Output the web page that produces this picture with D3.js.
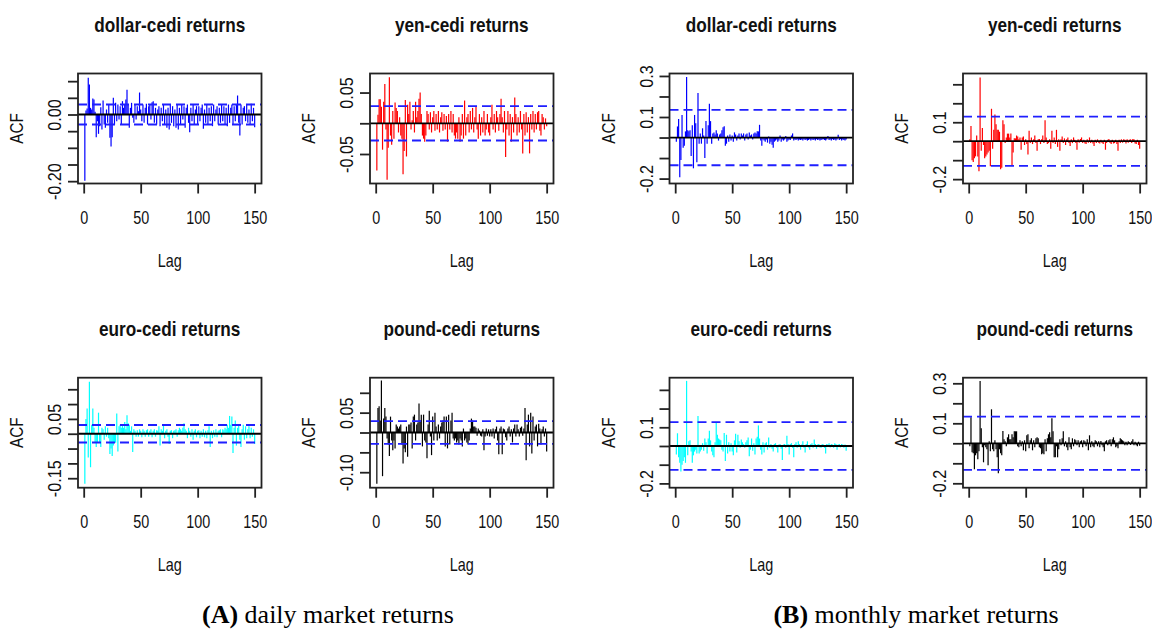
<!DOCTYPE html>
<html>
<head>
<meta charset="utf-8">
<script src="https://cdn.jsdelivr.net/npm/d3@7"></script>
<style>
body { margin: 0; background: #fff; }
svg text { font-family: "Liberation Sans", Arial, sans-serif; fill: #111; }
svg text.caption { font-family: "Liberation Serif", "Times New Roman", serif; }
</style>
</head>
<body>
<div id="chart"></div>
<script>
// lags shown on every panel (lag 0 left out)
var lags = d3.range(1, 151);
var xTicks = [0, 50, 100, 150];
var xLimits = [-5, 156];

// ---- daily returns, acf by lag 1..150 ----
var dollarDaily = [
  -0.199, 0.012, 0.018, 0.110, 0.090, 0.020, 0.015, 0.048, 0.045, 0.008,
  -0.068, -0.020, -0.058, -0.035, 0.022, -0.045, 0.042, -0.030, -0.040, 0.015,
  -0.025, 0.030, -0.070, -0.096, -0.068, 0.050, -0.030, 0.035, -0.020, 0.030,
  -0.015, 0.025, -0.030, 0.040, 0.020, 0.030, 0.045, 0.074, 0.030, -0.040,
  0.020, 0.035, -0.010, -0.025, 0.030, -0.015, 0.025, 0.010, 0.066, 0.015,
  -0.020, 0.030, -0.025, 0.020, 0.032, -0.030, 0.025, 0.030, -0.015, 0.037,
  0.040, -0.025, 0.020, -0.030, 0.015, 0.025, -0.035, 0.020, -0.020, 0.030,
  -0.030, 0.015, -0.040, 0.020, -0.045, 0.030, -0.025, 0.025, -0.035, 0.015,
  -0.040, 0.030, -0.045, 0.020, -0.030, 0.030, -0.015, 0.025, -0.040, 0.020,
  0.030, -0.025, -0.053, 0.020, -0.020, 0.030, -0.030, 0.015, 0.025, -0.030,
  0.025, -0.020, 0.020, 0.030, -0.043, 0.015, -0.025, 0.030, -0.030, 0.020,
  -0.020, 0.025, -0.035, 0.030, -0.020, 0.015, 0.025, -0.030, 0.020, -0.025,
  0.030, -0.020, 0.025, -0.030, 0.020, -0.035, 0.030, -0.025, 0.020, 0.030,
  -0.030, 0.025, -0.020, 0.030, 0.057, -0.025, -0.063, 0.030, -0.030, 0.020,
  0.025, -0.020, 0.030, -0.025, 0.015, -0.030, 0.032, -0.020, 0.020, -0.038
];
var yenDaily = [
  -0.077, 0.014, 0.039, 0.039, 0.027, -0.043, 0.035, 0.064, -0.010, -0.092,
  -0.040, 0.075, -0.020, -0.035, 0.020, -0.025, 0.034, 0.025, 0.020, -0.015,
  0.010, -0.020, -0.025, -0.083, -0.045, 0.038, -0.054, 0.030, 0.015, 0.035,
  -0.010, 0.005, 0.020, -0.015, 0.035, 0.010, 0.020, 0.040, 0.050, 0.015,
  -0.020, -0.025, -0.030, -0.020, 0.020, 0.015, -0.010, 0.018, -0.015, 0.010,
  0.020, -0.012, 0.015, -0.010, 0.020, -0.015, 0.010, 0.018, -0.012, 0.015,
  -0.010, 0.012, -0.030, 0.015, -0.010, 0.020, -0.015, 0.015, -0.020, -0.025,
  -0.015, -0.025, 0.010, -0.030, -0.020, 0.015, -0.025, 0.037, -0.020, 0.010,
  0.015, -0.015, 0.020, -0.010, 0.025, -0.015, 0.010, 0.028, -0.010, -0.025,
  0.015, -0.020, 0.010, -0.015, 0.020, -0.020, -0.010, 0.015, -0.015, -0.020,
  0.010, 0.030, -0.010, 0.015, -0.015, 0.020, 0.010, -0.012, 0.015, 0.040,
  0.010, -0.015, 0.020, -0.055, -0.010, 0.020, -0.020, 0.015, -0.030, 0.010,
  -0.015, 0.042, 0.015, -0.020, 0.010, -0.015, 0.020, -0.010, -0.049, 0.015,
  -0.020, 0.018, -0.015, 0.010, -0.049, 0.015, -0.010, 0.020, -0.015, 0.015,
  -0.010, 0.018, 0.020, -0.012, -0.020, 0.015, 0.010, -0.010, 0.008, -0.005
];
var euroDaily = [
  -0.169, 0.050, 0.085, -0.080, 0.175, -0.113, 0.030, 0.085, 0.020, -0.030,
  -0.045, -0.030, 0.071, -0.030, -0.045, 0.020, 0.015, -0.020, 0.025, -0.010,
  0.020, -0.015, -0.068, -0.050, -0.075, -0.040, -0.030, -0.030, 0.068, -0.060,
  0.025, 0.030, 0.020, 0.030, 0.020, 0.040, 0.015, 0.062, 0.035, 0.030,
  0.010, 0.025, -0.062, 0.015, 0.010, -0.010, 0.012, -0.010, 0.015, 0.010,
  -0.012, 0.015, 0.010, -0.010, 0.012, 0.015, -0.010, 0.010, 0.015, -0.012,
  0.010, 0.015, -0.010, 0.012, 0.010, 0.025, -0.040, 0.015, 0.010, 0.030,
  -0.015, 0.010, 0.015, -0.010, -0.035, 0.010, 0.012, -0.015, 0.010, 0.012,
  0.015, -0.010, 0.012, 0.020, 0.015, 0.010, 0.020, 0.035, 0.015, 0.010,
  -0.015, 0.020, 0.010, -0.010, 0.015, -0.020, 0.010, 0.015, -0.012, 0.010,
  0.012, -0.015, 0.010, -0.010, 0.015, -0.012, 0.010, -0.015, 0.012, 0.025,
  -0.045, 0.010, -0.015, 0.012, -0.010, 0.015, -0.012, 0.010, 0.012, 0.015,
  -0.012, 0.015, 0.012, 0.020, 0.015, 0.030, 0.020, 0.060, 0.030, 0.058,
  -0.065, 0.020, 0.045, -0.040, 0.020, 0.030, -0.020, -0.045, 0.015, 0.030,
  -0.020, 0.025, -0.015, 0.015, 0.025, -0.015, 0.020, -0.010, 0.015, -0.035
];
var poundDaily = [
  -0.129, 0.062, 0.066, 0.030, 0.131, -0.110, 0.035, 0.062, 0.040, -0.015,
  -0.030, -0.059, 0.040, -0.020, -0.045, -0.020, -0.040, 0.020, 0.015, 0.010,
  0.015, 0.020, -0.030, -0.078, -0.040, -0.050, 0.015, -0.061, 0.020, 0.020,
  0.025, -0.040, 0.040, 0.045, -0.020, 0.020, 0.025, 0.073, 0.030, 0.045,
  -0.035, 0.045, -0.020, -0.025, -0.065, 0.020, 0.055, -0.010, -0.057, 0.040,
  -0.020, 0.050, 0.015, -0.020, 0.020, -0.015, 0.015, 0.025, 0.030, 0.040,
  -0.035, 0.040, -0.040, 0.045, -0.030, 0.030, 0.050, -0.015, -0.020, -0.015,
  -0.025, -0.020, -0.030, -0.015, -0.020, -0.035, 0.010, -0.020, -0.015, -0.025,
  -0.030, -0.020, 0.010, 0.035, 0.030, 0.015, 0.015, 0.012, -0.008, 0.010,
  0.005, -0.008, -0.010, 0.008, -0.045, -0.010, 0.010, -0.008, 0.008, -0.010,
  0.008, -0.010, 0.010, -0.015, 0.008, 0.015, -0.020, -0.055, 0.010, 0.015,
  -0.055, 0.010, 0.008, -0.012, -0.020, 0.010, 0.015, -0.010, 0.008, -0.025,
  0.010, 0.020, -0.010, 0.020, 0.008, -0.010, 0.012, 0.015, -0.008, 0.010,
  0.062, -0.070, 0.020, 0.045, -0.035, 0.050, -0.053, 0.040, -0.020, 0.015,
  0.020, -0.035, 0.022, 0.010, -0.030, 0.008, 0.015, -0.010, 0.010, -0.048
];

// ---- monthly returns, acf by lag 1..150 ----
var dollarMonthly = [
  -0.020, 0.054, 0.090, -0.194, -0.110, 0.110, -0.050, -0.040, 0.030, 0.295,
  0.035, 0.030, 0.035, -0.090, 0.060, -0.150, 0.110, 0.070, -0.120, 0.217,
  -0.030, 0.020, -0.030, 0.045, 0.010, -0.100, 0.080, -0.030, 0.060, 0.165,
  0.080, -0.030, 0.020, 0.025, 0.015, 0.035, 0.020, -0.015, 0.015, 0.020,
  0.035, 0.050, 0.055, -0.040, -0.030, 0.010, -0.020, 0.015, -0.015, 0.010,
  -0.020, 0.025, 0.015, -0.015, 0.010, 0.020, -0.010, 0.020, 0.010, 0.020,
  -0.015, 0.015, 0.020, -0.010, 0.025, 0.010, 0.015, -0.010, 0.020, 0.025,
  0.020, 0.030, 0.030, 0.062, -0.015, -0.040, -0.010, -0.015, -0.020, -0.010,
  -0.025, 0.005, -0.030, -0.020, -0.035, -0.050, -0.020, -0.015, -0.010, -0.020,
  -0.015, 0.010, -0.020, -0.010, -0.015, -0.010, 0.008, -0.020, -0.015, -0.010,
  -0.012, 0.010, 0.020, -0.015, -0.010, -0.012, -0.008, -0.015, -0.010, -0.012,
  -0.010, -0.015, -0.008, -0.012, -0.010, -0.015, -0.012, -0.008, -0.015, -0.010,
  -0.012, -0.010, -0.015, -0.008, -0.012, -0.010, -0.015, -0.012, -0.010, -0.008,
  -0.012, -0.015, -0.010, 0.008, -0.012, -0.010, -0.015, -0.008, -0.012, -0.010,
  -0.015, -0.010, 0.013, -0.012, -0.008, -0.015, -0.010, -0.012, -0.015, -0.010
];
var yenMonthly = [
  0.010, 0.080, -0.100, -0.110, -0.090, -0.080, 0.030, -0.080, -0.159, 0.336,
  -0.050, 0.070, -0.020, -0.090, -0.080, -0.070, -0.060, -0.050, -0.132, 0.171,
  -0.040, 0.060, 0.141, 0.090, 0.060, 0.060, 0.050, -0.148, -0.140, 0.110,
  0.090, -0.010, 0.020, 0.040, 0.040, 0.020, 0.040, -0.129, -0.060, 0.015,
  0.015, 0.030, 0.025, 0.010, 0.020, -0.045, 0.020, 0.025, -0.020, 0.010,
  -0.015, -0.070, 0.055, -0.010, 0.020, -0.015, 0.010, 0.030, -0.010, -0.050,
  0.010, 0.012, -0.015, 0.010, 0.030, -0.010, 0.110, 0.020, -0.015, -0.010,
  0.010, -0.040, 0.055, -0.010, 0.020, -0.015, 0.060, -0.030, 0.010, -0.050,
  0.010, 0.025, -0.010, 0.015, -0.020, 0.010, 0.020, -0.010, -0.025, 0.010,
  -0.010, 0.020, 0.008, -0.010, -0.045, 0.010, -0.008, 0.012, 0.020, -0.010,
  0.008, -0.012, -0.015, 0.010, -0.008, 0.020, -0.010, 0.008, -0.012, -0.025,
  0.008, -0.010, 0.010, -0.008, -0.012, 0.008, -0.010, -0.015, 0.008, -0.045,
  -0.010, 0.008, 0.012, -0.010, -0.015, 0.008, -0.012, -0.010, 0.008, -0.015,
  -0.050, 0.008, -0.010, 0.010, -0.008, 0.010, 0.008, -0.012, 0.010, -0.008,
  0.008, 0.010, -0.010, 0.012, 0.010, -0.012, -0.015, 0.008, -0.020, -0.040
];
var euroMonthly = [
  -0.045, 0.068, -0.060, -0.090, -0.137, -0.100, -0.080, -0.060, -0.090, 0.348,
  -0.050, 0.025, 0.030, -0.030, -0.090, -0.050, -0.030, -0.020, -0.040, 0.160,
  -0.040, -0.030, -0.020, 0.015, -0.025, 0.040, 0.020, -0.040, 0.040, 0.082,
  0.030, -0.030, -0.050, -0.060, 0.020, 0.127, 0.060, 0.040, 0.035, 0.030,
  -0.020, -0.030, 0.070, -0.080, 0.060, -0.040, 0.020, -0.030, 0.015, -0.030,
  -0.050, 0.030, 0.065, -0.035, 0.060, 0.025, -0.010, 0.035, 0.020, 0.010,
  -0.010, 0.020, 0.030, 0.045, -0.055, -0.020, 0.040, -0.025, 0.015, -0.045,
  0.040, 0.050, 0.110, 0.040, -0.020, -0.045, 0.020, -0.035, 0.015, 0.020,
  -0.020, 0.045, -0.010, 0.010, -0.015, -0.030, 0.010, 0.015, -0.010, -0.035,
  0.008, 0.010, -0.015, -0.075, 0.008, 0.010, -0.010, 0.055, 0.010, -0.045,
  0.010, 0.015, -0.010, -0.060, 0.010, 0.020, -0.010, 0.025, 0.010, -0.020,
  0.008, 0.025, -0.010, -0.035, 0.010, 0.025, -0.008, -0.020, 0.010, 0.015,
  -0.010, 0.035, 0.010, -0.015, 0.008, 0.010, -0.008, -0.010, 0.010, 0.008,
  -0.010, -0.040, 0.010, 0.008, 0.015, -0.008, 0.010, 0.008, -0.010, 0.015,
  0.010, -0.020, 0.008, 0.010, -0.008, 0.010, 0.008, -0.010, 0.008, -0.025
];
var poundMonthly = [
  -0.015, 0.130, -0.045, -0.050, -0.130, -0.060, -0.050, -0.080, -0.040, 0.312,
  0.075, -0.020, -0.095, -0.010, -0.020, -0.030, -0.110, 0.010, -0.040, 0.170,
  -0.030, -0.040, 0.015, -0.030, -0.070, -0.150, -0.030, -0.050, -0.060, 0.062,
  0.020, 0.010, -0.015, 0.030, 0.045, 0.020, 0.020, 0.045, 0.030, 0.060,
  0.060, 0.060, -0.015, -0.020, 0.015, -0.015, 0.010, -0.035, 0.015, -0.040,
  0.040, 0.045, -0.025, 0.015, 0.025, -0.035, 0.015, -0.020, 0.025, 0.030,
  0.025, -0.020, -0.025, -0.055, -0.050, -0.055, 0.020, -0.040, 0.025, 0.045,
  0.055, 0.030, 0.125, 0.060, -0.070, -0.070, -0.015, -0.070, -0.030, 0.020,
  -0.010, 0.025, 0.060, -0.015, 0.010, -0.020, -0.035, 0.030, -0.020, -0.030,
  0.025, -0.015, 0.020, 0.015, -0.010, 0.015, -0.020, 0.010, 0.015, -0.020,
  0.015, 0.010, -0.015, 0.020, -0.035, 0.040, -0.020, 0.010, -0.015, -0.020,
  0.015, 0.010, -0.015, 0.010, -0.020, 0.012, -0.010, -0.020, -0.040, 0.010,
  0.015, -0.010, 0.015, 0.020, -0.015, 0.020, 0.030, 0.015, -0.020, -0.015,
  -0.025, 0.010, 0.025, 0.020, 0.015, 0.010, -0.010, 0.008, -0.010, 0.010,
  0.005, -0.008, 0.010, 0.020, -0.010, 0.008, -0.010, -0.015, 0.008, -0.012
];

// y tick values and the labels R managed to print for them
var ticksDollarD = [-0.20, -0.15, -0.10, -0.05, 0, 0.05, 0.10];
var labelsDollarD = ["-0.20", "", "", "", "0.00", "", ""];
var ticksYenD = [-0.05, 0, 0.05];
var labelsYenD = ["-0.05", "", "0.05"];
var ticksEuroD = [-0.15, -0.10, -0.05, 0, 0.05, 0.10, 0.15];
var labelsEuroD = ["-0.15", "", "", "", "0.05", "", ""];
var ticksPoundD = [-0.10, -0.05, 0, 0.05, 0.10];
var labelsPoundD = ["-0.10", "", "", "0.05", ""];
var ticksMonthly = [-0.2, -0.1, 0, 0.1, 0.2, 0.3];
var labelsDollarM = ["-0.2", "", "", "0.1", "", "0.3"];
var labelsYenM = ["-0.2", "", "", "0.1", "", ""];
var labelsEuroM = ["-0.2", "", "", "0.1", "", ""];
var labelsPoundM = ["-0.2", "", "", "0.1", "", "0.3"];

var captions = [["(A)", " daily market returns"], ["(B)", " monthly market returns"]];

var panels = [
  {title: "dollar-cedi returns", values: dollarDaily, color: "#0000ff", ci: 0.030, yLim: [-0.207, 0.123], ticks: ticksDollarD, labels: labelsDollarD, col: 0, row: 0},
  {title: "yen-cedi returns", values: yenDaily, color: "#ff0000", ci: 0.028, yLim: [-0.098, 0.081], ticks: ticksYenD, labels: labelsYenD, col: 1, row: 0},
  {title: "dollar-cedi returns", values: dollarMonthly, color: "#0000ff", ci: 0.135, yLim: [-0.224, 0.312], ticks: ticksMonthly, labels: labelsDollarM, col: 2, row: 0},
  {title: "yen-cedi returns", values: yenMonthly, color: "#ff0000", ci: 0.130, yLim: [-0.223, 0.357], ticks: ticksMonthly, labels: labelsYenM, col: 3, row: 0},
  {title: "euro-cedi returns", values: euroDaily, color: "#00ffff", ci: 0.0295, yLim: [-0.182, 0.189], ticks: ticksEuroD, labels: labelsEuroD, col: 0, row: 1},
  {title: "pound-cedi returns", values: poundDaily, color: "#000000", ci: 0.0287, yLim: [-0.139, 0.138], ticks: ticksPoundD, labels: labelsPoundD, col: 1, row: 1},
  {title: "euro-cedi returns", values: euroMonthly, color: "#00ffff", ci: 0.128, yLim: [-0.223, 0.365], ticks: ticksMonthly, labels: labelsEuroM, col: 2, row: 1},
  {title: "pound-cedi returns", values: poundMonthly, color: "#000000", ci: 0.133, yLim: [-0.222, 0.328], ticks: ticksMonthly, labels: labelsPoundM, col: 3, row: 1}
];

//layout
var w = 1152;
var h = 630;
var colLeft = [78, 370, 669.5, 963];
var rowTop = [73.5, 377.7];
var boxW = 183.5;
var boxH = 110;
var axisColor = "#222";

var svg = d3.select("#chart")
  .append("svg")
  .attr("width", w)
  .attr("height", h);

panels.forEach(function(p) {
  var left = colLeft[p.col];
  var top = rowTop[p.row];
  var g = svg.append("g").attr("transform", "translate(" + left + "," + top + ")");

  var xScale = d3.scaleLinear().domain(xLimits).range([0, boxW]);
  var yScale = d3.scaleLinear().domain(p.yLim).range([boxH, 0]);

  // spikes
  g.append("g")
    .selectAll("line")
    .data(p.values)
    .join("line")
    .attr("x1", function(d, i) { return xScale(lags[i]); })
    .attr("x2", function(d, i) { return xScale(lags[i]); })
    .attr("y1", yScale(0))
    .attr("y2", function(d) { return yScale(d); })
    .attr("stroke", p.color)
    .attr("stroke-width", 1.2);

  // zero line
  g.append("line")
    .attr("x1", 0).attr("x2", boxW)
    .attr("y1", yScale(0)).attr("y2", yScale(0))
    .attr("stroke", "#000")
    .attr("stroke-width", 1.8);

  // confidence bounds
  g.selectAll("line.ci")
    .data([p.ci, -p.ci])
    .join("line")
    .attr("class", "ci")
    .attr("x1", 0).attr("x2", boxW)
    .attr("y1", function(d) { return yScale(d); })
    .attr("y2", function(d) { return yScale(d); })
    .attr("stroke", "#1f1fff")
    .attr("stroke-width", 1.8)
    .attr("stroke-dasharray", "9,5");

  // box
  g.append("rect")
    .attr("width", boxW).attr("height", boxH)
    .attr("fill", "none")
    .attr("stroke", axisColor)
    .attr("stroke-width", 1.8);

  // y axis, labels turned like R does
  var yAxis = d3.axisLeft(yScale)
    .tickValues(p.ticks)
    .tickSize(10)
    .tickFormat(function(d, i) { return p.labels[i]; });
  var ya = g.append("g").call(yAxis);
  ya.select(".domain").remove();
  ya.selectAll(".tick line").attr("stroke", axisColor).attr("stroke-width", 1.8);
  ya.selectAll(".tick text")
    .attr("x", null).attr("dy", null)
    .attr("text-anchor", "middle")
    .attr("transform", "translate(-17,0) rotate(-90) scale(0.9,1)")
    .style("font-size", "18px")
    .style("fill", "#111");

  // x axis
  var xAxis = d3.axisBottom(xScale)
    .tickValues(xTicks)
    .tickSize(10)
    .tickFormat(d3.format("d"));
  var xa = g.append("g")
    .attr("transform", "translate(0," + boxH + ")")
    .call(xAxis);
  xa.select(".domain").remove();
  xa.selectAll(".tick line").attr("stroke", axisColor).attr("stroke-width", 1.8);
  xa.selectAll(".tick text")
    .attr("y", null).attr("dy", null)
    .attr("text-anchor", "middle")
    .attr("transform", "translate(0,40) scale(0.8,1)")
    .style("font-size", "18px")
    .style("fill", "#111");

  // title and axis names
  g.append("text")
    .attr("text-anchor", "middle")
    .attr("transform", "translate(" + (boxW / 2) + "," + (-42) + ") scale(0.86,1)")
    .style("font-size", "20px")
    .style("font-weight", "bold")
    .text(p.title);

  g.append("text")
    .attr("text-anchor", "middle")
    .attr("transform", "translate(" + (boxW / 2) + "," + (boxH + 83) + ") scale(0.8,1)")
    .style("font-size", "18px")
    .text("Lag");

  g.append("text")
    .attr("text-anchor", "middle")
    .attr("transform", "translate(-55," + (boxH / 2) + ") rotate(-90) scale(0.85,1)")
    .style("font-size", "18px")
    .text("ACF");
});

// sub-figure captions
var capX = [328, 916];
captions.forEach(function(c, i) {
  var t = svg.append("text")
    .attr("class", "caption")
    .attr("text-anchor", "middle")
    .attr("x", capX[i])
    .attr("y", 623)
    .style("font-size", "26px")
    .style("fill", "#000");
  t.append("tspan").style("font-weight", "bold").text(c[0]);
  t.append("tspan").text(c[1]);
});
</script>
</body>
</html>
